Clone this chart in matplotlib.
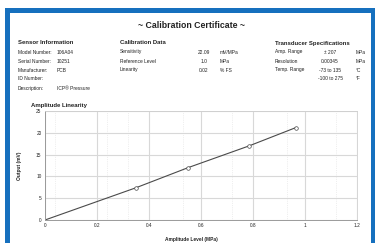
import matplotlib
matplotlib.use("Agg")
import matplotlib.pyplot as plt
from matplotlib.patches import Rectangle
from matplotlib.ticker import FixedLocator, MultipleLocator

plt.rcParams["font.family"] = ["Liberation Sans", "DejaVu Sans"]

TITLE = "~ Calibration Certificate ~"

sensor_labels = ["Model Number:", "Serial Number:", "Manufacturer:", "ID Number:", "Description:"]
sensor_values = ["106A04", "10251", "PCB", "", "ICP® Pressure"]

cal_labels = ["Sensitivity", "Reference Level", "Linearity"]
cal_values = ["22.09", "1.0", "0.02"]
cal_units = ["mV/MPa", "MPa", "% FS"]

spec_labels = ["Amp. Range", "Resolution", "Temp. Range", ""]
spec_values = ["± 207", "0.00345", "-73 to 135", "-100 to 275"]
spec_units = ["MPa", "MPa", "°C", "°F"]

amplitude = [0, 0.35, 0.55, 0.785, 0.965]
output_mv = [0, 7.4, 12.0, 17.0, 21.2]

x_ticks = [0, 0.2, 0.4, 0.6, 0.8, 1.0, 1.2]
x_tick_labels = ["0", "0.2", "0.4", "0.6", "0.8", "1", "1.2"]
x_minor = [0.04, 0.24, 0.32, 0.53, 0.72, 0.93, 1.12]

W, H = 375, 243
BLUE = "#1670be"
TEXT = "#222222"


def fx(px):
    return px / W


def fy(py):
    return 1 - py / H


fig = plt.figure(figsize=(W / 100, H / 100), dpi=100)
fig.patch.set_facecolor("white")

# blue frame, open at the bottom edge of the picture
fig.add_artist(Rectangle((fx(6.5), fy(250)), fx(366), fy(10.5) - fy(250),
                         transform=fig.transFigure, fill=False,
                         edgecolor=BLUE, linewidth=3.6))

fig.text(fx(192), fy(25), TITLE, ha="center", va="center",
         fontsize=6.3, fontweight="bold", color=TEXT)

head_y = 43
row_y = [52, 61, 70, 79, 88]
body = dict(fontsize=3.5, color=TEXT, va="center")
head = dict(fontsize=4.3, color=TEXT, va="center", fontweight="bold")

fig.text(fx(18), fy(head_y), "Sensor Information", **head)
for y, lab, val in zip(row_y, sensor_labels, sensor_values):
    fig.text(fx(18), fy(y), lab, ha="left", **body)
    fig.text(fx(57), fy(y), val, ha="left", **body)

fig.text(fx(120), fy(head_y), "Calibration Data", **head)
for y, lab, val, unit in zip(row_y, cal_labels, cal_values, cal_units):
    fig.text(fx(120), fy(y), lab, ha="left", **body)
    fig.text(fx(204), fy(y), val, ha="center", **body)
    fig.text(fx(220), fy(y), unit, ha="left", **body)

fig.text(fx(275), fy(head_y), "Transducer Specifications", **head)
for y, lab, val, unit in zip(row_y, spec_labels, spec_values, spec_units):
    fig.text(fx(275), fy(y), lab, ha="left", **body)
    fig.text(fx(330), fy(y), val, ha="center", **body)
    fig.text(fx(356), fy(y), unit, ha="left", **body)

fig.text(fx(31), fy(105), "Amplitude Linearity", ha="left", va="center",
         fontsize=4.3, fontweight="bold", color=TEXT)

ax = fig.add_axes([fx(45), fy(220), fx(357) - fx(45), fy(111) - fy(220)])
ax.set_xlim(0, 1.2)
ax.set_ylim(0, 25)
ax.set_xticks(x_ticks)
ax.set_xticklabels(x_tick_labels)
ax.yaxis.set_major_locator(MultipleLocator(5))
ax.xaxis.set_minor_locator(FixedLocator(x_minor))
ax.grid(which="major", color="#d8d8d8", linewidth=0.8)
ax.grid(which="minor", axis="x", color="#e0e0e0", linewidth=0.5, linestyle=":")
ax.set_axisbelow(True)
ax.tick_params(which="both", length=0, labelsize=3.4, labelcolor=TEXT, pad=2.5)
for side in ["top", "right"]:
    ax.spines[side].set_color("#cfcfcf")
    ax.spines[side].set_linewidth(0.6)
for side in ["left", "bottom"]:
    ax.spines[side].set_color("#9a9a9a")
    ax.spines[side].set_linewidth(0.7)

ax.plot(amplitude, output_mv, color="#4a4a4a", linewidth=0.8,
        marker="o", markersize=2.6, markerfacecolor="white",
        markeredgecolor="#4a4a4a", markeredgewidth=0.5,
        markevery=[1, 2, 3, 4])

fig.text(fx(191), fy(239), "Amplitude Level (MPa)", ha="center", va="center",
         fontsize=3.5, fontweight="bold", color=TEXT)
fig.text(fx(20), fy(166), "Output (mV)", ha="center", va="center",
         rotation=90, fontsize=3.5, fontweight="bold", color=TEXT)

fig.savefig("out.png", dpi=100, facecolor="white")
